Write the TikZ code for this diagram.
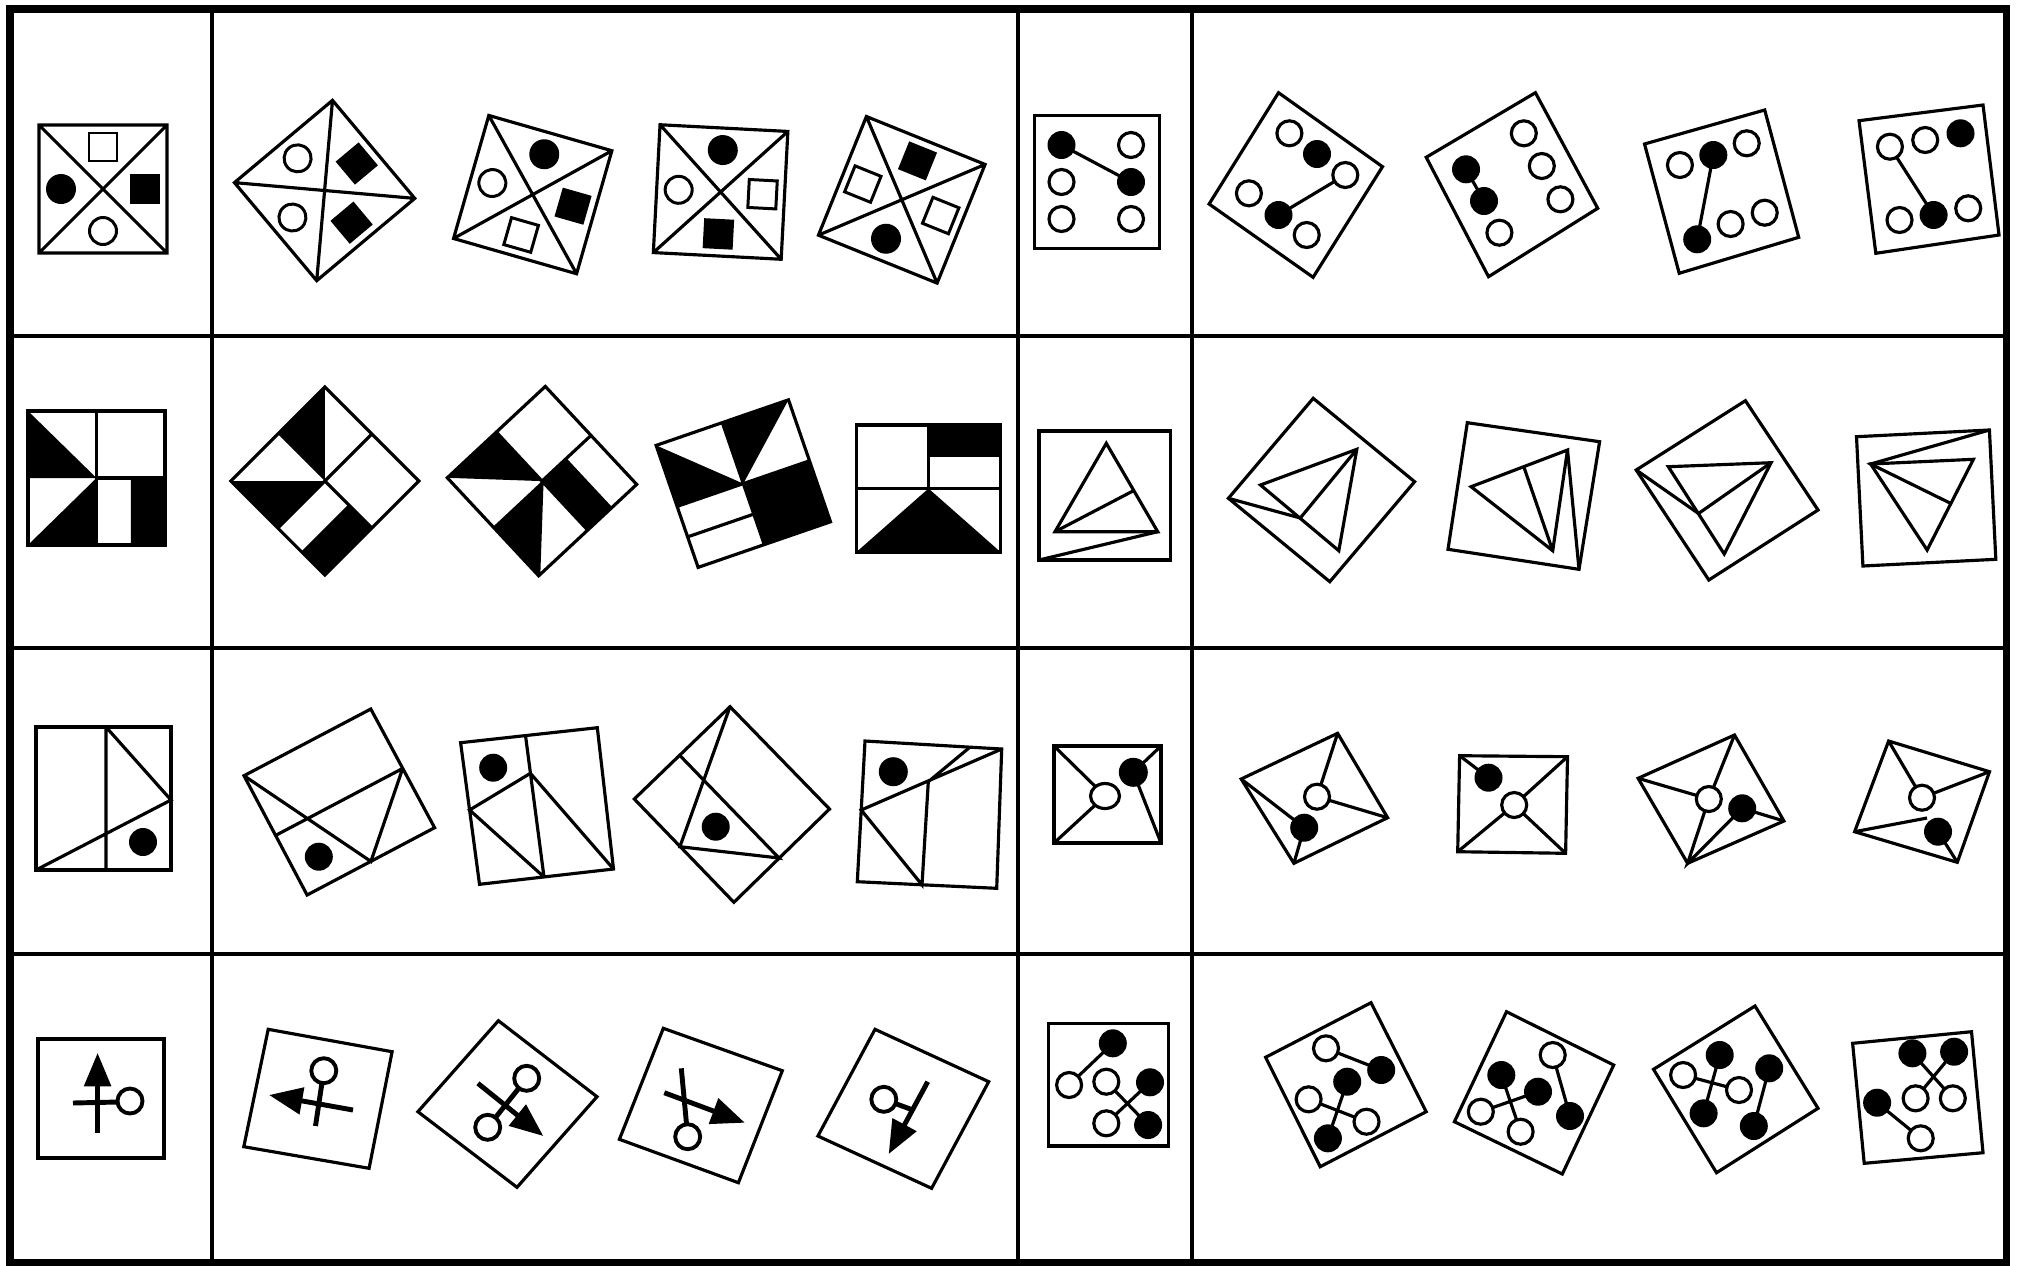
\documentclass[tikz,border=0pt]{standalone}
\usetikzlibrary{arrows.meta}
\newcommand\symOC[2]{\draw[line width=1.7pt,fill=white] (#1,#2) circle (13.5);}
\newcommand\symFC[2]{\fill (#1,#2) circle (15);}
\newcommand\symOS[2]{\draw[line width=1.7pt] (#1-14,#2-14) rectangle (#1+14,#2+14);}
\newcommand\symFS[2]{\fill (#1-15,#2-15) rectangle (#1+15,#2+15);}
\newcommand\dotO[2]{\draw[line width=1.8pt,fill=white] (#1,#2) circle (12.5);}
\newcommand\dotF[2]{\fill (#1,#2) circle (14);}
\newcommand\xsq{\draw (-64,-64) rectangle (64,64) (-64,-64)--(64,64) (-64,64)--(64,-64);}
\newcommand\patA{\fill (-1,1)--(-1,0)--(0,0)--cycle (0,0)--(-1,-1)--(0,-1)--cycle (0.5,-1) rectangle (1,0);
  \draw (0,-1)--(0,1) (0,0)--(1,0) (-1,-1) rectangle (1,1);}
\newcommand\patB{\fill (-1,-1)--(-1,0)--(0,0)--cycle (0,0)--(1,-1)--(0,-1)--cycle (0,0) rectangle (1,0.5);
  \draw (0,0)--(0,1) (-1,0)--(1,0) (0,0)--(1,-1) (-1,-1) rectangle (1,1);}
\newcommand\patC{\fill (-1,1)--(-1,0)--(0,0)--cycle (0,1)--(1,1)--(0,0)--cycle (0,-1) rectangle (1,0);
  \draw (-1,0)--(1,0) (0,-1)--(0,1) (-1,-0.5)--(0,-0.5) (-1,-1) rectangle (1,1);}
\newcommand\patD{\fill (0,0.5) rectangle (1,1) (0,0)--(-1,-1)--(1,-1)--cycle;
  \draw (0,0)--(0,1) (-1,0)--(1,0) (-1,-1) rectangle (1,1);}
\begin{document}
\begin{tikzpicture}[x=0.02cm,y=-0.02cm,line width=1.8pt,
  frame/.style={line width=2.6pt},
  outer/.style={line width=4pt},
  bar/.style={line width=2.8pt},
  ring/.style={line width=2.2pt,fill=white},
  arr/.style={line width=2.8pt,-{Triangle[length=19pt,width=15pt]}}]
\useasboundingbox (0,0) rectangle (2017,1265);
\fill[white] (0,0) rectangle (2017,1265);
% ---------- frame
\draw[outer] (10,9) rectangle (2006,1262);
\draw[frame] (10,336)--(2006,336) (10,648)--(2006,648) (10,954)--(2006,954)
  (212,9)--(212,1262) (1018,9)--(1018,1262) (1192,9)--(1192,1262);
% ---------- row 1, left
\begin{scope}[shift={(103,189)},yscale=-1]
  \xsq \symOS{0}{42}\symFS{42}{0}\symFC{-42}{0}\symOC{0}{-42}
\end{scope}
\begin{scope}[shift={(324.6,190.5)},rotate=40,yscale=-1]
  \xsq \symOC{0}{42}\symFS{42}{0}\symOC{-42}{0}\symFS{0}{-42}
\end{scope}
\begin{scope}[shift={(532.7,194.6)},rotate=-16,yscale=-1]
  \xsq \symFC{0}{42}\symOC{-42}{0}\symFS{42}{0}\symOS{0}{-42}
\end{scope}
\begin{scope}[shift={(720.6,192)},rotate=-3,yscale=-1]
  \xsq \symFC{0}{42}\symOC{-42}{0}\symOS{42}{0}\symFS{0}{-42}
\end{scope}
\begin{scope}[shift={(901.75,199.8)},rotate=-22,yscale=-1]
  \xsq \symFS{0}{42}\symOS{-42}{0}\symOS{42}{0}\symFC{0}{-42}
\end{scope}
% ---------- row 1, right
\draw (1034.5,115.5) rectangle (1159.5,248.5);
\draw (1061.5,145)--(1131,182);
\dotF{1061.5}{145}\dotF{1131}{182}\dotO{1131}{145}\dotO{1061.5}{182}\dotO{1061.5}{219}\dotO{1131}{219}
\draw (1278.5,92.7)--(1382.5,166.7)--(1313.1,277.3)--(1209.1,204)--cycle;
\draw (1278.5,215)--(1345.3,175);
\dotO{1289.4}{133.3}\dotF{1317}{154}\dotO{1345.3}{175}\dotO{1248.9}{193.3}\dotF{1278.5}{215}\dotO{1306.7}{235}
\draw (1535.4,92.7)--(1597.7,208.3)--(1488.5,276.7)--(1426.2,157.3)--cycle;
\draw (1466,169.3)--(1484,201);
\dotO{1523.8}{133.3}\dotO{1541.8}{166}\dotO{1560.4}{199.3}\dotF{1466}{169.3}\dotF{1484}{201}\dotO{1499.4}{232.7}
\draw (1644.5,144)--(1764.7,110)--(1798.7,237.3)--(1679.2,273.3)--cycle;
\draw (1713.3,155)--(1697.2,239.3);
\dotO{1679.9}{165}\dotF{1713.3}{155}\dotO{1746.7}{143.3}\dotF{1697.2}{239.3}\dotO{1730.6}{224}\dotO{1764.7}{212.7}
\draw (1859,120.7)--(1983,105)--(1999,235)--(1875.8,253.3)--cycle;
\draw (1889.9,146.7)--(1933.6,215);
\dotO{1889.9}{146.7}\dotO{1925.2}{140}\dotF{1960.5}{133.3}\dotO{1899.5}{220}\dotF{1933.6}{215}\dotO{1968.2}{208.3}
% ---------- row 2, left
\begin{scope}[shift={(96.5,478)},xscale=68.5,yscale=-67]\patA\end{scope}
\begin{scope}[shift={(324.8,481)},rotate=-45,xscale=66.5,yscale=-66.5]\patA\end{scope}
\begin{scope}[shift={(542,481.1)},rotate=-47,xscale=67,yscale=-67]\patB\end{scope}
\begin{scope}[shift={(743.3,483.6)},rotate=19,xscale=70,yscale=-64.5]\patC\end{scope}
\begin{scope}[shift={(928.5,488.5)},xscale=72,yscale=-63.5]\patD\end{scope}
% ---------- row 2, right
\draw (1039,431) rectangle (1170.5,560);
\draw (1106.3,443.3)--(1055,531.7)--(1157.7,531.7)--cycle;
\draw (1055,531.7)--(1133.5,490.7);
\draw (1157.7,531.7)--(1039,560);
\draw (1313.2,398.3)--(1414.6,481.7)--(1329.8,581.7)--(1228.4,498.3)--cycle;
\draw (1260.5,485)--(1356.8,449.3)--(1338.8,550.7)--cycle;
\draw (1356.8,449.3)--(1300.3,518)--(1228.4,498.3);
\draw (1467.3,422.7)--(1599.6,441.7)--(1579,569.3)--(1448,549.3)--cycle;
\draw (1471.1,486.7)--(1567.5,450)--(1552.7,550.7)--cycle;
\draw (1523.8,466.8)--(1552.7,550.7);
\draw (1567.5,450)--(1579,569.3);
\draw (1745.4,400.7)--(1818,510)--(1708.8,580)--(1636.2,470)--cycle;
\draw (1668.3,466.7)--(1771.1,462.7)--(1724.2,554)--cycle;
\draw (1771.1,462.7)--(1698.5,513.5)--(1636.2,470);
\draw (1856.5,436.7)--(1989.4,430)--(1995.8,559.3)--(1862.9,566)--cycle;
\draw (1870.6,464)--(1973.4,459.3)--(1927.1,550)--cycle;
\draw (1989.4,430)--(1870.6,464)--(1950.9,503.5);
% ---------- row 3, left
\draw (36,727) rectangle (171,870);
\draw (106,727)--(106,870) (106,727)--(171,800)--(36,870);
\fill (143,842) circle (14);
\draw (370.8,709)--(434.6,827.7)--(307.1,895)--(244,775.7)--cycle;
\draw (402.7,768.4)--(275.6,835.4) (402.7,768.4)--(370.9,861.4)--(244,775.7);
\fill (318.8,856.7) circle (14);
\draw (460.6,742.7)--(597.3,727.7)--(613.5,869)--(479.5,884.3)--cycle;
\draw (525.5,735.5)--(544,877) (530.4,773.3)--(469.6,810)--(544,877) (530.4,773.3)--(613.5,869);
\fill (493.2,767.7) circle (14);
\draw (730,706.7)--(829.5,809)--(733.9,902.3)--(634.3,799)--cycle;
\draw (730,706.7)--(679.9,846.7)--(779,858)--(679.9,755.5);
\fill (715.7,826.7) circle (14);
\draw (865,741)--(1001.7,749)--(996.7,888.3)--(857.3,881.7)--cycle;
\draw (1001.7,749)--(861.2,810)--(922,884.8)--(928.3,781.7)--(970,747.1);
\fill (893.3,771.7) circle (14.5);
% ---------- row 3, right
\draw (1054,746) rectangle (1161,843);
\draw (1054,746)--(1105,796)--(1054,843) (1161,746)--(1133.3,772.3)--(1161,843);
\fill (1133.3,772.3) circle (14.5);
\draw[line width=1.8pt,fill=white] (1105,796) ellipse [x radius=14.5, y radius=12.5];
\draw (1337.6,733.3)--(1387.6,817.7)--(1293.9,863.3)--(1241.2,779)--cycle;
\draw (1337.6,733.3)--(1317,796.7)--(1387.6,817.7) (1241.2,779)--(1304.2,827.7)--(1293.9,863.3);
\dotF{1304.2}{827.7}\dotO{1317}{796.7}
\draw (1459.6,755.7)--(1567.5,756.7)--(1565.6,853.3)--(1457.7,851.7)--cycle;
\draw (1459.6,755.7)--(1488.5,777.7) (1567.5,756.7)--(1514.2,805)--(1457.7,851.7) (1514.2,805)--(1565.6,853.3);
\dotF{1488.5}{777.7}\dotO{1514.2}{805}
\draw (1734.5,735)--(1783.9,821)--(1687.6,863.3)--(1638.1,778.3)--cycle;
\draw (1638.1,778.3)--(1708.8,799)--(1734.5,735) (1708.8,799)--(1687.6,863.3)--(1742.2,808.3)--(1783.9,821);
\dotF{1742.2}{808.3}\dotO{1708.8}{799}
\draw (1888.6,741)--(1989.5,771.7)--(1957.3,862.3)--(1854.6,831.7)--cycle;
\draw (1888.6,741)--(1922,797.7)--(1989.5,771.7) (1854.6,831.7)--(1927,818) (1938,831.7)--(1957.3,862.3);
\dotF{1938}{831.7}\dotO{1922}{797.7}
% ---------- row 4, left
\draw (38,1039) rectangle (164,1158);
\draw[arr] (97.6,1133)--(97.6,1053);
\draw[bar] (73,1103)--(118,1102);
\draw[ring] (130,1101) circle (12.5);
\draw (268.2,1029.3)--(392.1,1051.7)--(369.1,1168.3)--(243.8,1146.7)--cycle;
\draw[bar] (315.5,1126)--(323.8,1070.7);
\draw[arr] (353,1110)--(269.1,1095);
\draw[ring] (323.8,1070.7) circle (12.5);
\draw (498.4,1020.7)--(597,1096.7)--(517,1187.3)--(417.9,1111.7)--cycle;
\draw[bar] (526.7,1078.3)--(487.7,1127.3);
\draw[arr] (477.9,1083.3)--(543.3,1136);
\draw[ring] (526.7,1078.3) circle (12.5) (487.7,1127.3) circle (12.5);
\draw (663.3,1028.3)--(782.3,1070.7)--(738.4,1182.7)--(619.4,1139.3)--cycle;
\draw[bar] (681.3,1068.3)--(687.7,1136.7);
\draw[arr] (664.3,1092.7)--(744.8,1122.7);
\draw[ring] (687.7,1136.7) circle (12.5);
\draw (875,1029.3)--(988.7,1081.7)--(931.6,1188.3)--(817.9,1136)--cycle;
\draw[bar] (883.8,1099.3)--(913,1110);
\draw[arr] (927.7,1081.7)--(888.7,1154);
\draw[ring] (883.8,1099.3) circle (12.5);
% ---------- row 4, right
\draw (1048.5,1023.5) rectangle (1168.5,1146);
\draw (1112.8,1043.3)--(1069.1,1085) (1106.3,1081.7)--(1148.1,1125) (1150,1082.3)--(1106.3,1123.3);
\dotF{1112.8}{1043.3}\dotO{1069.1}{1085}\dotO{1106.3}{1081.7}\dotF{1150}{1082.3}\dotO{1106.3}{1123.3}\dotF{1148.1}{1125}
\draw (1265.6,1057.3)--(1371,1002.7)--(1426.2,1111.7)--(1320.2,1166.7)--cycle;
\draw (1326,1048.3)--(1381.2,1070) (1347.2,1081.7)--(1327.9,1138.3) (1308.6,1099.3)--(1366.5,1121.7);
\dotO{1326}{1048.3}\dotF{1381.2}{1070}\dotF{1347.2}{1081.7}\dotO{1308.6}{1099.3}\dotO{1366.5}{1121.7}\dotF{1327.9}{1138.3}
\draw (1506.5,1011.7)--(1613.7,1065)--(1562.3,1174)--(1454.4,1121.7)--cycle;
\draw (1552.7,1055)--(1570,1116) (1501.3,1075)--(1520.6,1131.7) (1480.8,1111.7)--(1538,1091.7);
\dotO{1552.7}{1055}\dotF{1501.3}{1075}\dotF{1538}{1091.7}\dotO{1480.8}{1111.7}\dotF{1570}{1116}\dotO{1520.6}{1131.7}
\draw (1755,1006)--(1818,1108.3)--(1716.5,1172.7)--(1653.5,1069.3)--cycle;
\draw (1683.1,1075)--(1739,1090) (1719.7,1055)--(1703.6,1113.3) (1769.2,1068.3)--(1753.8,1126);
\dotO{1683.1}{1075}\dotF{1719.7}{1055}\dotF{1769.2}{1068.3}\dotO{1739}{1090}\dotF{1703.6}{1113.3}\dotF{1753.8}{1126}
\draw (1852.6,1043.3)--(1971.5,1031.7)--(1983,1152.7)--(1864.2,1163.3)--cycle;
\draw (1912.4,1053.3)--(1952.8,1098.3) (1954.1,1051.7)--(1915.6,1098.3) (1877.1,1102.7)--(1920.7,1138.3);
\dotF{1912.4}{1053.3}\dotF{1954.1}{1051.7}\dotF{1877.1}{1102.7}\dotO{1915.6}{1098.3}\dotO{1952.8}{1098.3}\dotO{1920.7}{1138.3}
\end{tikzpicture}
\end{document}
